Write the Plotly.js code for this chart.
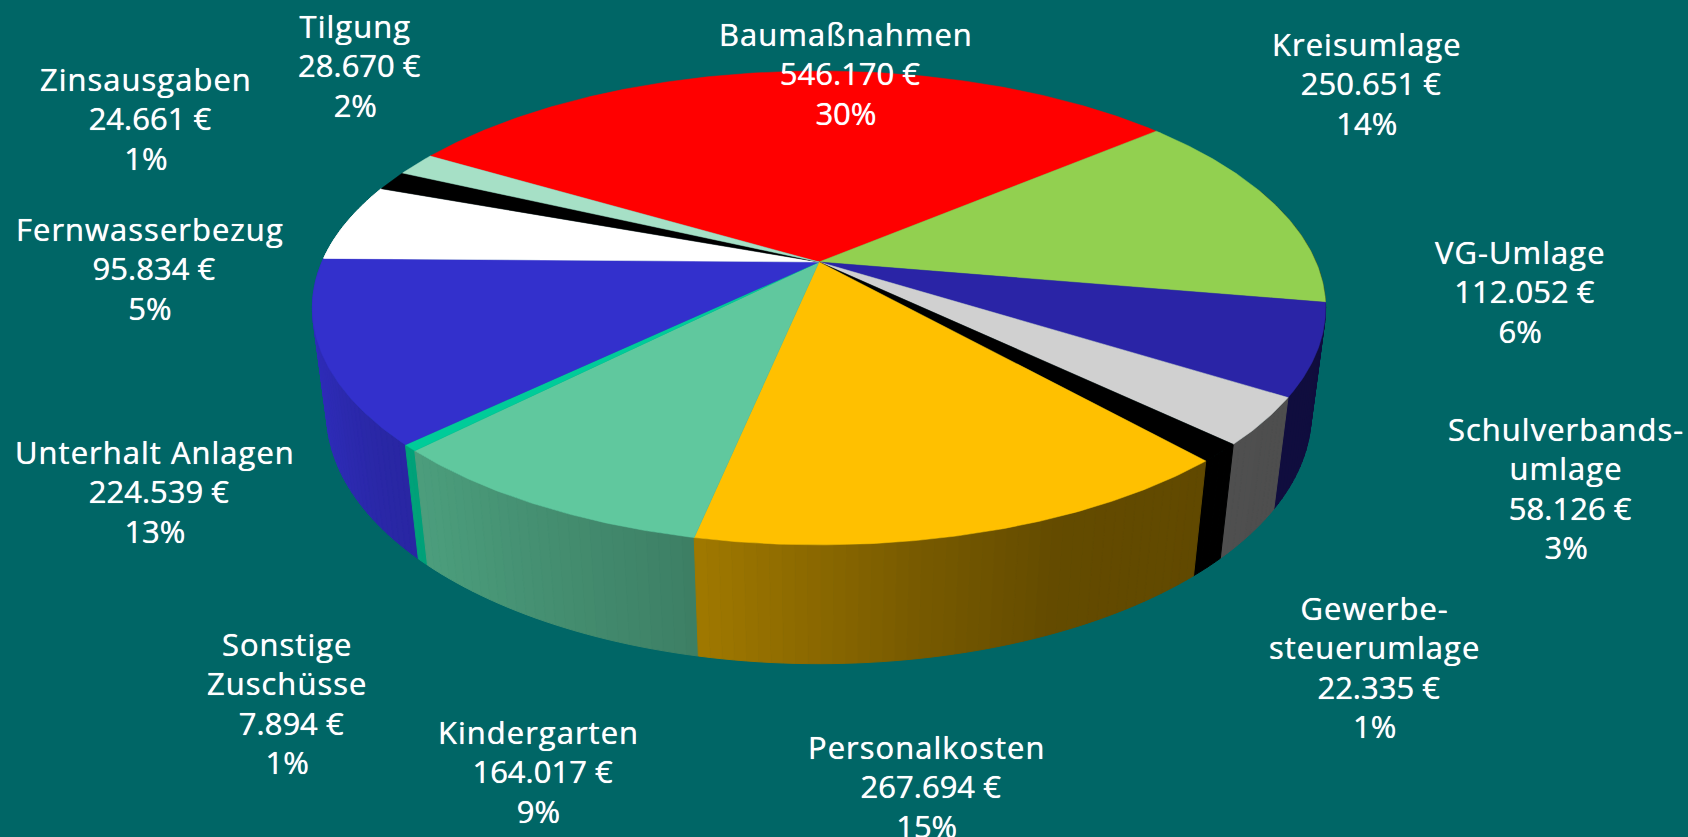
<!DOCTYPE html>
<html><head><meta charset="utf-8">
<script src="https://cdn.plot.ly/plotly-3.0.1.min.js"></script>
<style>html,body{margin:0;padding:0;background:#006666;overflow:hidden}#c{width:1688px;height:837px}</style>
</head><body><div id="c"></div>
<script>
const categories = ["Baumaßnahmen","Kreisumlage","VG-Umlage","Schulverbands-<br>umlage","Gewerbe-<br>steuerumlage","Personalkosten","Kindergarten","Sonstige<br>Zuschüsse","Unterhalt Anlagen","Fernwasserbezug","Zinsausgaben","Tilgung"];
const amounts = [546170,250651,112052,58126,22335,267694,164017,7894,224539,95834,24661,28670];
const amountLabels = ["546.170 €","250.651 €","112.052 €","58.126 €","22.335 €","267.694 €","164.017 €","7.894 €","224.539 €","95.834 €","24.661 €","28.670 €"];
const percentLabels = ["30%","14%","6%","3%","1%","15%","9%","1%","13%","5%","1%","2%"];
const topColors = ["#ff0000","#92d050","#2a24a6","#d0d0d0","#000000","#ffc000","#60c89e","#00cc99","#3330cc","#ffffff","#000000","#a6e0c6"];
const labelX = [846,1367,1520,1566,1374,926,538,287,155,150,146,355];
const labelY = [73,83,291,488,667,786,771,703,491,268,118,65];

// Projection of the tilted disc into the page
const view = {cx:819, cy:262, a:228, b:497, k:0.194, m:0.028, h:107, start:-59.3};
function project(angle, r, z){
  const t = angle*Math.PI/180, x = r*Math.sin(t), v = -r*Math.cos(t);
  const w = 1 - view.k*v + view.m*z;
  return [view.cx + view.b*x/w, view.cy + (view.a*v + view.h*z)/w];
}
// wall shading as a function of horizontal position on the rim
const shadeX = [-1,-0.8,-0.25,0.16,0.4,1];
const shadeF = [0.93,0.82,0.65,0.47,0.39,0.37];
function shade(s){
  for(let i=1;i<shadeX.length;i++) if(s<=shadeX[i]){
    const f=(s-shadeX[i-1])/(shadeX[i]-shadeX[i-1]);
    return shadeF[i-1]+f*(shadeF[i]-shadeF[i-1]);
  }
  return shadeF[shadeF.length-1];
}
function mix(hex,f){
  const n=parseInt(hex.slice(1),16);
  return `rgb(${Math.round((n>>16&255)*f)},${Math.round((n>>8&255)*f)},${Math.round((n&255)*f)})`;
}
const total = amounts.reduce((p,c)=>p+c,0);
const traces=[], tops=[], strips=[];
let ang=view.start;
amounts.forEach((val,i)=>{
  const sweep=val/total*360, end=ang+sweep;
  const step=Math.max(sweep/Math.ceil(sweep/1.2),0.1);
  for(let p=ang;p<end-1e-6;p+=step){
    const q=Math.min(p+step,end), mid=(p+q)/2;
    const depth=-Math.cos(mid*Math.PI/180);
    if(depth<-0.35) continue;
    const a=project(p,1,0),b=project(q,1,0),c=project(q,1,1),d=project(p,1,1);
    strips.push({depth,x:[a[0],b[0],c[0],d[0],a[0]],y:[a[1],b[1],c[1],d[1],a[1]],
      color:mix(topColors[i],shade(Math.sin(mid*Math.PI/180)))});
  }
  const xs=[view.cx],ys=[view.cy];
  const n=Math.ceil(sweep/0.5);
  for(let j=0;j<=n;j++){const pt=project(ang+sweep*j/n,1,0);xs.push(pt[0]);ys.push(pt[1]);}
  xs.push(view.cx);ys.push(view.cy);
  tops.push({type:'scatter',mode:'lines',x:xs,y:ys,fill:'toself',fillcolor:topColors[i],
    line:{color:topColors[i],width:0.5},hoverinfo:'skip',showlegend:false,name:categories[i]});
  ang=end;
});
strips.sort((p,q)=>p.depth-q.depth).forEach(s=>{
  traces.push({type:'scatter',mode:'lines',x:s.x,y:s.y,fill:'toself',fillcolor:s.color,
    line:{color:s.color,width:1},hoverinfo:'skip',showlegend:false});
});
const nameLine = t => `<span style="font-size:31px;letter-spacing:1px">${t}</span>`;
const amountLine = t => `<span style="font-size:31px">&nbsp;${t}</span>`;
const percentLine = t => `<span style="font-size:31px">${t}</span>`;
const annotations=categories.map((c,i)=>({
  xref:'x',yref:'y',x:labelX[i],y:labelY[i],xanchor:'center',yanchor:'middle',showarrow:false,align:'center',
  text:c.split('<br>').map(nameLine).join('<br>')+'<br>'+amountLine(amountLabels[i])+'<br>'+percentLine(percentLabels[i]),
  font:{family:'"Open Sans",sans-serif',size:30.2,color:'#ffffff',weight:500,shadow:'0 0 0.7px #ffffff'}
}));
Plotly.newPlot('c',traces.concat(tops),{
  width:1688,height:837,margin:{l:0,r:0,t:0,b:0},
  paper_bgcolor:'#006666',plot_bgcolor:'#006666',showlegend:false,
  xaxis:{range:[0,1688],visible:false,fixedrange:true},
  yaxis:{range:[837,0],visible:false,fixedrange:true},
  annotations
},{displayModeBar:false,staticPlot:true});
</script></body></html>
